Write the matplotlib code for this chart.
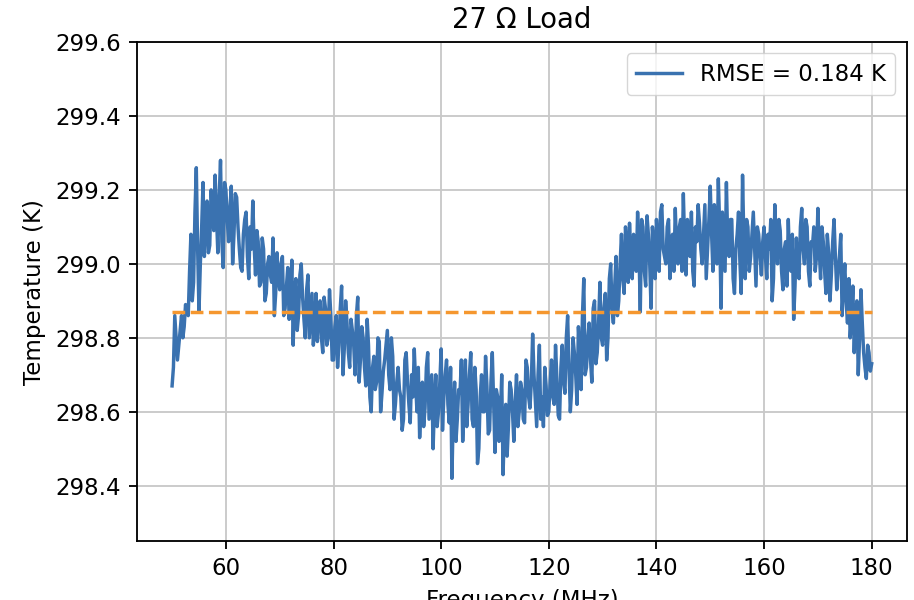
import matplotlib
matplotlib.use("Agg")
import matplotlib.pyplot as plt
import numpy as np

# Temperature readings of the 27 Ohm load.
# temp_a: read at 50, 50.5, ... 180 MHz; temp_b: read at 50.25, 50.75, ... 179.75 MHz
freq_a = np.arange(50.0, 180.01, 0.5)
freq_b = np.arange(50.25, 179.8, 0.5)

temp_a = [
    # 50 - 59.5
    298.67, 298.86, 298.74, 298.82, 298.80, 298.89, 298.86, 299.08, 298.95, 299.26,
    298.87, 299.10, 299.02, 299.17, 299.05, 299.14, 299.24, 299.03, 299.28, 298.99,
    # 60 - 69.5
    299.20, 299.06, 299.21, 299.08, 299.18, 299.04, 298.98, 299.12, 299.02, 299.10,
    299.17, 298.97, 299.06, 298.95, 299.04, 298.92, 299.02, 298.95, 298.86, 299.03,
    # 70 - 79.5
    298.93, 299.02, 298.88, 298.99, 298.90, 298.78, 298.96, 298.86, 299.00, 298.85,
    298.93, 298.80, 298.92, 298.84, 298.79, 298.90, 298.76, 298.88, 298.80, 298.86,
    # 80 - 89.5
    298.74, 298.86, 298.78, 298.94, 298.77, 298.84, 298.72, 298.82, 298.70, 298.91,
    298.74, 298.80, 298.67, 298.78, 298.60, 298.75, 298.68, 298.79, 298.65, 298.74,
    # 90 - 99.5
    298.82, 298.66, 298.75, 298.62, 298.72, 298.64, 298.58, 298.76, 298.62, 298.70,
    298.77, 298.60, 298.53, 298.68, 298.61, 298.76, 298.64, 298.50, 298.70, 298.60,
    # 100 - 109.5
    298.77, 298.64, 298.74, 298.57, 298.42, 298.68, 298.58, 298.65, 298.52, 298.74,
    298.62, 298.76, 298.56, 298.66, 298.50, 298.70, 298.60, 298.67, 298.55, 298.76,
    # 110 - 119.5
    298.49, 298.64, 298.58, 298.43, 298.62, 298.56, 298.66, 298.52, 298.70, 298.60,
    298.66, 298.57, 298.72, 298.61, 298.81, 298.63, 298.70, 298.58, 298.56, 298.67,
    # 120 - 129.5
    298.60, 298.74, 298.62, 298.69, 298.58, 298.78, 298.65, 298.86, 298.60, 298.80,
    298.70, 298.83, 298.66, 298.96, 298.72, 298.84, 298.68, 298.90, 298.76, 298.95,
    # 130 - 139.5
    298.78, 298.92, 298.80, 299.00, 298.84, 299.02, 298.90, 299.08, 298.92, 299.04,
    299.11, 298.96, 299.06, 299.14, 298.87, 299.10, 298.94, 299.08, 298.88, 299.05,
    # 140 - 149.5
    299.12, 298.98, 299.16, 299.02, 299.10, 298.96, 299.08, 299.15, 299.00, 299.12,
    299.19, 298.97, 299.08, 299.14, 298.94, 299.06, 299.11, 299.00, 299.16, 299.04,
    # 150 - 159.5
    299.21, 298.98, 299.12, 299.23, 298.88, 299.06, 299.22, 299.02, 299.12, 298.92,
    299.08, 299.01, 299.24, 298.96, 299.10, 299.02, 299.14, 298.94, 299.08, 298.97,
    # 160 - 169.5
    299.10, 298.96, 299.04, 298.90, 299.16, 299.00, 299.09, 298.93, 299.06, 299.12,
    298.98, 298.85, 299.07, 298.96, 299.15, 299.00, 299.10, 298.94, 299.05, 298.98,
    # 170 - 180
    299.15, 298.96, 299.06, 298.92, 299.03, 298.97, 299.12, 298.93, 299.02, 298.86,
    299.00, 298.84, 298.80, 298.94, 298.86, 298.70, 298.93, 298.76, 298.69, 298.76,
    298.73,
]

temp_b = [
    # 50.25 - 59.75
    298.72, 298.80, 298.78, 298.86, 298.83, 298.87, 298.98, 298.90, 299.14, 299.04,
    299.00, 299.22, 299.12, 299.03, 299.20, 299.09, 299.13, 299.18, 299.06, 299.22,
    # 60.25 - 69.75
    299.12, 299.15, 299.00, 299.19, 299.10, 298.99, 299.08, 299.14, 298.96, 299.04,
    299.05, 299.09, 298.94, 299.07, 298.90, 299.00, 298.97, 299.07, 298.92, 298.96,
    # 70.25 - 79.75
    299.00, 298.86, 298.94, 298.85, 299.01, 298.92, 298.82, 298.97, 298.91, 298.80,
    298.97, 298.86, 298.78, 298.92, 298.88, 298.80, 298.91, 298.78, 298.93, 298.74,
    # 80.25 - 89.75
    298.83, 298.72, 298.88, 298.70, 298.90, 298.76, 298.85, 298.78, 298.86, 298.68,
    298.83, 298.72, 298.85, 298.64, 298.72, 298.66, 298.80, 298.60, 298.71, 298.78,
    # 90.25 - 99.75
    298.70, 298.80, 298.58, 298.68, 298.66, 298.55, 298.74, 298.68, 298.57, 298.64,
    298.68, 298.72, 298.62, 298.56, 298.72, 298.58, 298.70, 298.62, 298.56, 298.68,
    # 100.25 - 109.75
    298.55, 298.70, 298.62, 298.72, 298.60, 298.52, 298.66, 298.74, 298.62, 298.56,
    298.70, 298.58, 298.72, 298.46, 298.64, 298.60, 298.75, 298.54, 298.68, 298.62,
    # 110.25 - 119.75
    298.66, 298.52, 298.70, 298.56, 298.48, 298.68, 298.60, 298.62, 298.56, 298.68,
    298.58, 298.74, 298.64, 298.68, 298.70, 298.56, 298.78, 298.64, 298.72, 298.59,
    # 120.25 - 129.75
    298.68, 298.64, 298.78, 298.59, 298.72, 298.68, 298.80, 298.72, 298.66, 298.76,
    298.62, 298.76, 298.86, 298.70, 298.80, 298.74, 298.88, 298.73, 298.84, 298.80,
    # 130.25 - 139.75
    298.88, 298.74, 298.96, 298.88, 298.94, 298.86, 299.00, 298.96, 299.10, 298.95,
    299.02, 299.08, 298.98, 299.04, 299.12, 298.98, 299.13, 299.00, 299.10, 298.96,
    # 140.25 - 149.75
    299.06, 299.14, 299.04, 299.00, 299.12, 299.06, 298.98, 299.04, 299.10, 298.98,
    299.05, 299.12, 299.02, 298.98, 299.10, 299.16, 299.04, 299.08, 298.96, 299.12,
    # 150.25 - 159.75
    299.08, 299.16, 299.00, 299.10, 299.14, 298.98, 299.06, 299.12, 298.96, 299.04,
    299.14, 298.92, 299.06, 299.12, 298.98, 299.08, 299.04, 299.10, 299.02, 299.06,
    # 160.25 - 169.75
    299.02, 299.08, 299.12, 298.96, 299.06, 299.12, 298.98, 299.04, 298.94, 299.00,
    299.08, 298.94, 298.98, 299.10, 299.04, 299.12, 298.98, 299.06, 299.10, 299.02,
    # 170.25 - 179.75
    299.04, 299.10, 298.98, 299.08, 298.90, 299.06, 299.02, 298.98, 299.08, 298.94,
    298.90, 298.96, 298.86, 298.76, 298.90, 298.80, 298.84, 298.72, 298.78, 298.71,
]

mean_temp = 298.87
rmse_label = "RMSE = 0.184 K"

# put both readings on one frequency axis
freq = np.concatenate([freq_a, freq_b])
temp = np.concatenate([temp_a, temp_b])
order = np.argsort(freq)
freq = freq[order]
temp = temp[order]

# the original was drawn at a larger scale, so grow the default sizes
s = 1.65
plt.rcParams.update({
    "font.size": 10 * s,
    "axes.titlesize": 12 * s,
    "axes.labelsize": 10 * s,
    "axes.linewidth": 0.8 * s,
    "lines.linewidth": 1.5 * s,
    "grid.linewidth": 0.8 * s,
    "xtick.major.size": 3.5 * s,
    "ytick.major.size": 3.5 * s,
    "xtick.major.width": 0.8 * s,
    "ytick.major.width": 0.8 * s,
    "xtick.major.pad": 3.5 * s,
    "ytick.major.pad": 3.5 * s,
    "axes.labelpad": 4 * s,
    "axes.titlepad": 6 * s,
    "legend.fontsize": 10 * s,
})

fig = plt.figure(figsize=(9.14, 6.0), dpi=100)
ax = fig.add_axes([0.150, 0.098, 0.842, 0.832])

ax.plot(freq, temp, color="#3a72b0", label=rmse_label)
ax.plot(freq, np.full(len(freq), mean_temp), color="#f5972f", linestyle="dashed")

ax.set_ylim(298.25, 299.6)
ax.set_yticks([298.4, 298.6, 298.8, 299.0, 299.2, 299.4, 299.6])
ax.set_xticks([60, 80, 100, 120, 140, 160, 180])
ax.set_title("27 Ω Load")
ax.set_xlabel("Frequency (MHz)")
ax.set_ylabel("Temperature (K)")
ax.grid(color="#c8c8c8")
ax.legend(loc="upper right")

fig.savefig("out.png", dpi=100)
